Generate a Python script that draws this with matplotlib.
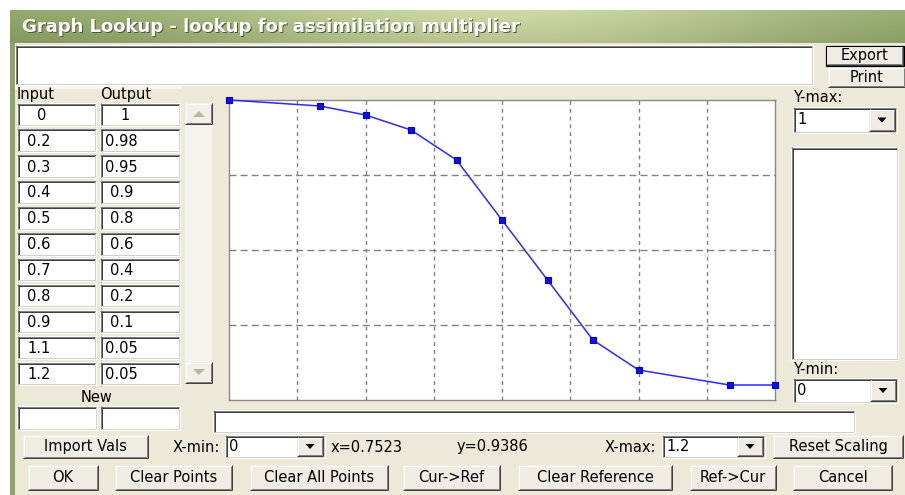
import numpy as np
import matplotlib
matplotlib.use("Agg")
import matplotlib.pyplot as plt
from matplotlib.patches import Rectangle, Polygon

# ---------------- data ----------------
inputs = [0, 0.2, 0.3, 0.4, 0.5, 0.6, 0.7, 0.8, 0.9, 1.1, 1.2]
outputs = [1, 0.98, 0.95, 0.9, 0.8, 0.6, 0.4, 0.2, 0.1, 0.05, 0.05]
x_min, x_max = 0, 1.2
y_min, y_max = 0, 1
cursor_x, cursor_y = 0.7523, 0.9386
title = "Graph Lookup - lookup for assimilation multiplier"
bottom_buttons = ["OK", "Clear Points", "Clear All Points", "Cur->Ref",
                  "Clear Reference", "Ref->Cur", "Cancel"]

W, H = 905, 495
BG = '#ece9d8'
FACE = '#efede3'
FS = 10.5
FONT = 'DejaVu Sans'

fig = plt.figure(figsize=(W / 100, H / 100), dpi=100)
fig.patch.set_facecolor('white')
ui = fig.add_axes([0, 0, 1, 1])
ui.set_xlim(0, W)
ui.set_ylim(H, 0)
ui.axis('off')

PX = 0.72  # one pixel in points


def rect(x0, y0, x1, y1, fc, z=1):
    ui.add_patch(Rectangle((x0, y0), x1 - x0, y1 - y0, fc=fc, ec='none', lw=0, zorder=z))


def hl(x0, x1, y, c, w=1, z=3):
    ui.plot([x0, x1], [y, y], color=c, lw=w * PX, solid_capstyle='butt', zorder=z)


def vl(x, y0, y1, c, w=1, z=3):
    ui.plot([x, x], [y0, y1], color=c, lw=w * PX, solid_capstyle='butt', zorder=z)


def sunken(x0, y0, x1, y1, fc='white'):
    rect(x0, y0, x1, y1, fc, z=2)
    hl(x0, x1, y0 + 0.5, '#808080')
    vl(x0 + 0.5, y0, y1, '#808080')
    hl(x0 + 1, x1 - 1, y0 + 1.5, '#404040')
    vl(x0 + 1.5, y0 + 1, y1 - 1, '#404040')
    hl(x0, x1, y1 - 0.5, '#ffffff')
    vl(x1 - 0.5, y0, y1, '#ffffff')
    hl(x0 + 1, x1 - 1, y1 - 1.5, '#d4d0c8')
    vl(x1 - 1.5, y0 + 1, y1 - 1, '#d4d0c8')


def raised(x0, y0, x1, y1, label=None, default=False, fc=FACE):
    rect(x0, y0, x1, y1, fc, z=2)
    hl(x0, x1, y0 + 0.5, '#ffffff')
    vl(x0 + 0.5, y0, y1, '#ffffff')
    hl(x0, x1, y1 - 0.5, '#404040')
    vl(x1 - 0.5, y0, y1, '#404040')
    hl(x0 + 1, x1 - 1, y1 - 1.5, '#808080')
    vl(x1 - 1.5, y0 + 1, y1 - 1, '#808080')
    if default:
        ui.add_patch(Rectangle((x0 - 0.5, y0 - 0.5), x1 - x0 + 1, y1 - y0 + 1,
                               fc='none', ec='black', lw=1.2 * PX, zorder=4))
    if label is not None:
        ui.text((x0 + x1) / 2, (y0 + y1) / 2, label, ha='center', va='center',
                fontsize=FS, family=FONT, color='black', zorder=5)


def tri(cx, cy, w, h, c):
    ui.add_patch(Polygon([[cx - w / 2, cy - h / 2], [cx + w / 2, cy - h / 2], [cx, cy + h / 2]],
                         closed=True, fc=c, ec='none', zorder=5))


def combo(x0, y0, x1, y1, text):
    sunken(x0, y0, x1, y1)
    raised(x1 - 28, y0 + 2, x1 - 2, y1 - 2)
    tri(x1 - 15, (y0 + y1) / 2, 9, 5, 'black')
    ui.text(x0 + 4, (y0 + y1) / 2, text, ha='left', va='center',
            fontsize=FS, family=FONT, zorder=5)


def label(x, y, s, ha='left'):
    ui.text(x, y, s, ha=ha, va='center', fontsize=FS, family=FONT, color='black', zorder=5)


# ---------------- window frame ----------------
rect(10, 10, W, H, BG, z=0)
# title bar gradient
grad = np.linspace(0, 1, 400)
prof = np.exp(-((grad - 0.55) / 0.35) ** 2)
dark = np.array([138, 160, 100]) / 255
light = np.array([200, 211, 158]) / 255
row = dark[None, :] + (light - dark)[None, :] * prof[:, None]
vert = np.linspace(1.03, 0.93, 30)
img = np.clip(row[None, :, :] * vert[:, None, None], 0, 1)
ui.imshow(img, extent=[10, W, 43, 10], aspect='auto', zorder=1, interpolation='bilinear')
rect(10, 43, 15, H, '#8ea46a', z=1)
ui.text(23, 28, title, ha='left', va='center', fontsize=13, fontweight='bold',
        family=FONT, color='#4f5a35', zorder=5)
ui.text(22, 27, title, ha='left', va='center', fontsize=13, fontweight='bold',
        family=FONT, color='white', zorder=6)

# top text box + export / print
sunken(15, 45, 813, 85)
rect(15, 85, 182, 89, '#f6f5ef', z=1)
raised(826, 46, 903, 65, 'Export', default=True)
raised(828, 67, 905, 87, 'Print')

# ---------------- table ----------------
label(17, 95, 'Input')
label(100, 95, 'Output')
row_top0, row_step, row_h = 103, 25.9, 23.5
for i, (xi, yo) in enumerate(zip(inputs, outputs)):
    t = row_top0 + i * row_step
    for (cx0, cx1, val) in [(17, 96, xi), (100, 180, yo)]:
        sunken(cx0, t, cx1, t + row_h)
        s = f"{val:g}"
        label(cx0 + 5 + 5 * max(0, 4 - len(s)), t + row_h / 2 + 0.5, s)

# scroll bar
rect(185, 124, 212, 362, '#f4f3ec', z=1)
raised(185, 103, 212, 124, fc='#f1efe6')
ui.add_patch(Polygon([[193, 117], [205, 117], [199, 111]], closed=True,
                     fc='#b8b6aa', ec='none', zorder=5))
raised(185, 362, 212, 383, fc='#f1efe6')
ui.add_patch(Polygon([[193, 369], [205, 369], [199, 375]], closed=True,
                     fc='#b8b6aa', ec='none', zorder=5))

label(97, 397, 'New', ha='center')
sunken(17, 406, 97, 430)
sunken(100, 406, 180, 430)

# ---------------- right column ----------------
label(793, 98, 'Y-max:')
combo(793, 107, 897, 133, f"{y_max:g}")
sunken(791, 147, 898, 360)
label(793, 370, 'Y-min:')
combo(793, 378, 898, 403, f"{y_min:g}")

# ---------------- bottom controls ----------------
sunken(213, 410, 855, 433)
raised(23, 435, 148, 458, 'Import Vals')
label(173, 447, 'X-min:')
combo(225, 435, 325, 458, f"{x_min:g}")
label(331, 447, f"x={cursor_x:.4f}")
label(457, 447, f"y={cursor_y:.4f}")
label(605, 447, 'X-max:')
combo(662, 435, 765, 458, f"{x_max:g}")
raised(773, 435, 903, 458, 'Reset Scaling')

btn_x = [(28, 98), (115, 232), (250, 388), (403, 500), (518, 672), (690, 776), (793, 892)]
for (bx0, bx1), name in zip(btn_x, bottom_buttons):
    raised(bx0, 465, bx1, 490, name)

# ---------------- graph ----------------
gx0, gx1, gy0, gy1 = 229, 775, 100, 400
ax = fig.add_axes([gx0 / W, (H - gy1) / H, (gx1 - gx0) / W, (gy1 - gy0) / H])
ax.set_facecolor('white')
ax.set_xlim(x_min, x_max)
ax.set_ylim(y_min, y_max)
for xv in np.linspace(x_min, x_max, 9)[1:-1]:
    ax.axvline(xv, color='#808080', lw=1.0, ls=(0, (2.8, 2.8)), zorder=1)
for yv in np.linspace(y_min, y_max, 5)[1:-1]:
    ax.axhline(yv, color='#808080', lw=1.0, ls=(0, (5, 3)), zorder=1)
ax.plot(inputs, outputs, color='#2b2bff', lw=1.1, zorder=3, clip_on=False)
ax.plot(inputs, outputs, ls='none', marker='s', ms=4, mfc='#1010e0', mec='#0000cc',
        mew=0.8, zorder=4, clip_on=False)
ax.set_xticks([])
ax.set_yticks([])
for sp in ax.spines.values():
    sp.set_color('#8a8a8a')
    sp.set_linewidth(1.0)

fig.savefig('out.png', dpi=100, facecolor=fig.get_facecolor())
